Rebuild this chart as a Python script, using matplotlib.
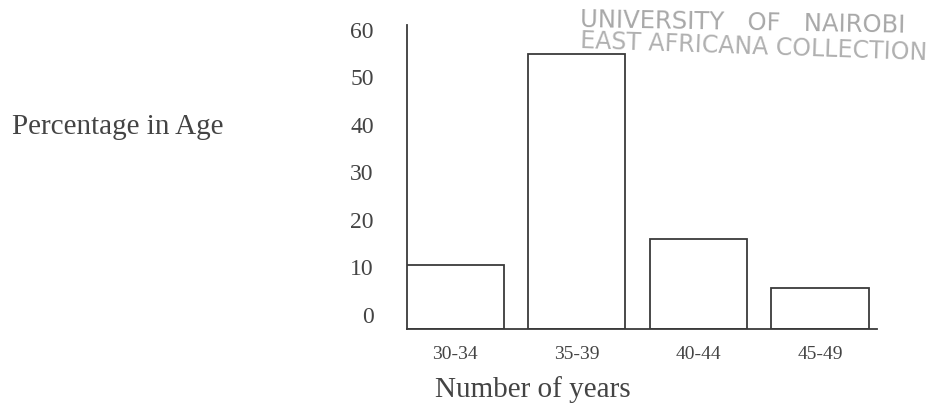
import matplotlib
matplotlib.use("Agg")
import matplotlib.pyplot as plt
import numpy as np

categories = ["30-34", "35-39", "40-44", "45-49"]
percentages = [10.5, 55, 16, 5.7]
yticks = [0, 10, 20, 30, 40, 50, 60]

W, H = 948, 417
fig = plt.figure(figsize=(W / 100, H / 100), dpi=100)
ax = fig.add_axes([407 / W, 1 - 329 / H, (877 - 407) / W, (329 - 25) / H])

serif = ["Liberation Serif", "DejaVu Serif"]
ink = "#3a3a3a"
txt = "#444444"

ybase = -3
x = np.arange(len(categories))
heights = [v - ybase for v in percentages]
ax.bar(x, heights, bottom=ybase, width=0.8, facecolor="white",
       edgecolor=ink, linewidth=1.3)

ax.set_xlim(-0.394, 3.468)
ax.set_ylim(ybase, 61)
ax.set_xticks(x)
ax.set_xticklabels(categories, fontfamily=serif, fontsize=14, color=txt)
ax.set_yticks(yticks)
ax.set_yticklabels([str(t) for t in yticks], fontfamily=serif, fontsize=17, color=txt)
ax.tick_params(axis="both", length=0)
ax.tick_params(axis="y", pad=24)
ax.tick_params(axis="x", pad=12)

for s in ["top", "right"]:
    ax.spines[s].set_visible(False)
for s in ["left", "bottom"]:
    ax.spines[s].set_color(ink)
    ax.spines[s].set_linewidth(1.3)

fig.text(12 / W, 1 - 127 / H, "Percentage in Age", fontfamily=serif,
         fontsize=21, color=txt, ha="left", va="center")
fig.text(533 / W, 1 - 390 / H, "Number of years", fontfamily=serif,
         fontsize=21, color=txt, ha="center", va="center")

# library stamp
fig.text(580 / W, 1 - 23 / H, "UNIVERSITY   OF   NAIROBI", fontfamily="DejaVu Sans",
         fontsize=17.5, color="#a8a8a8", ha="left", va="center", rotation=-1)
fig.text(580 / W, 1 - 47 / H, "EAST AFRICANA COLLECTION", fontfamily="DejaVu Sans",
         fontsize=17, color="#b0b0b0", ha="left", va="center", rotation=-2)

fig.savefig("out.png", dpi=100, facecolor="white")
